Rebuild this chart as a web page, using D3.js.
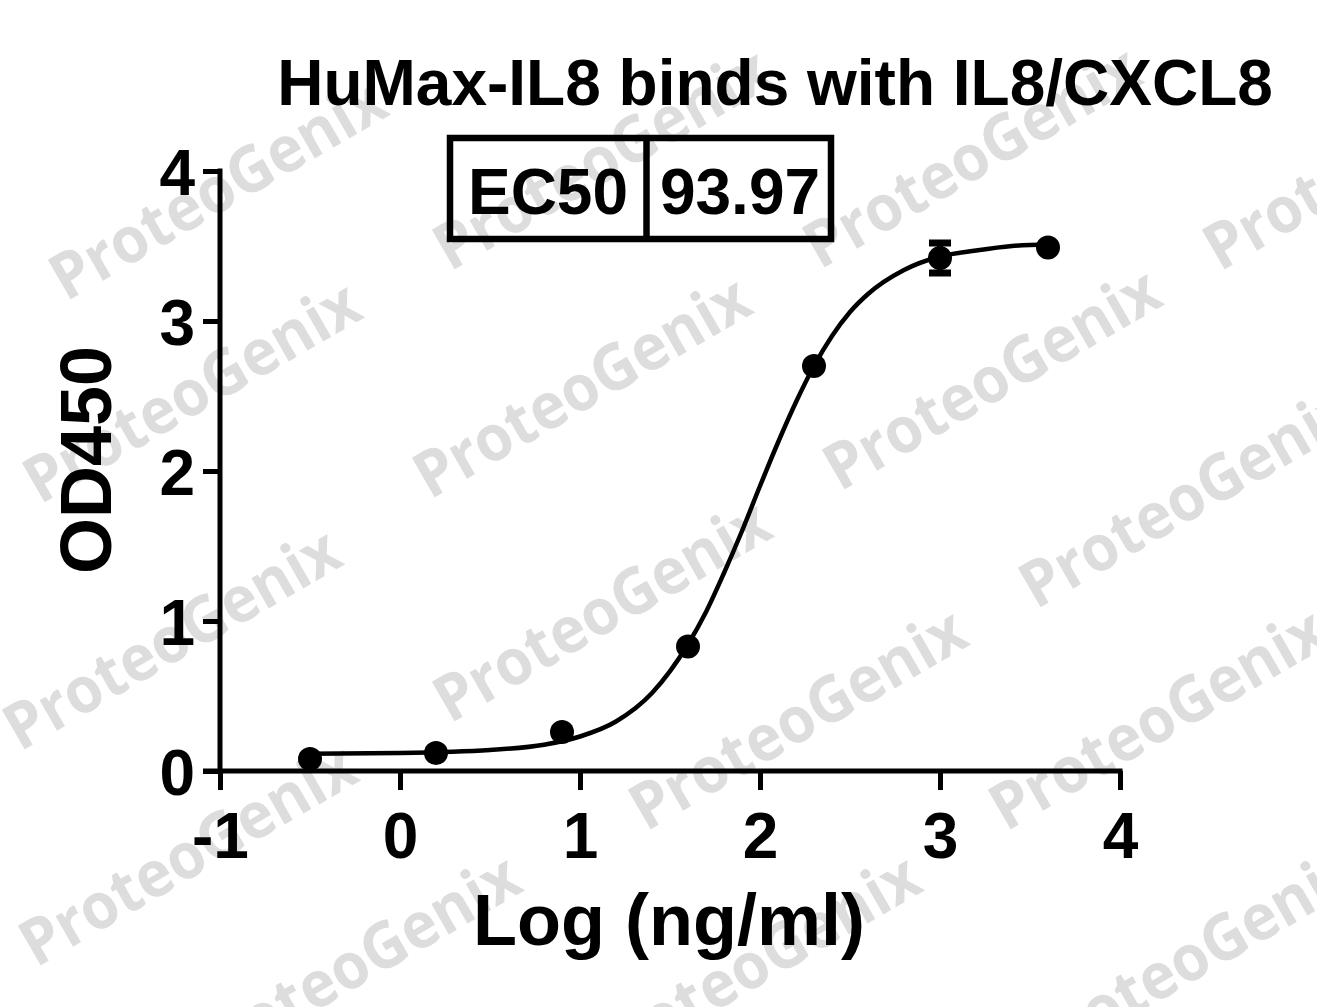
<!DOCTYPE html>
<html>
<head>
<meta charset="utf-8">
<script src="https://cdn.jsdelivr.net/npm/d3@7"></script>
<style>
  html, body { margin: 0; padding: 0; background: #fff; }
  svg { display: block; }
</style>
</head>
<body>
<svg id="chart" width="1317" height="1007"></svg>
<script>
// ---- data ----
const logConc = [-0.5, 0.2, 0.9, 1.6, 2.3, 3.0, 3.6];
const od450   = [0.08, 0.12, 0.26, 0.83, 2.70, 3.42, 3.49];
const odError = [0, 0, 0, 0, 0, 0.10, 0];

const fitLog = [-0.5, 0, 0.5, 0.8, 1.0, 1.2, 1.4, 1.6, 1.7, 1.8, 1.9, 2.0, 2.1, 2.2, 2.3, 2.4, 2.5, 2.6, 2.8, 3.0, 3.2, 3.4, 3.6];
const fitOD  = [0.115, 0.12, 0.14, 0.175, 0.23, 0.33, 0.52, 0.845, 1.06, 1.32, 1.60, 1.90, 2.19, 2.46, 2.70, 2.90, 3.06, 3.18, 3.34, 3.43, 3.47, 3.50, 3.51];

const xTicks = [-1, 0, 1, 2, 3, 4];
const yTicks = [0, 1, 2, 3, 4];
const xTickLabels = ["-1", "0", "1", "2", "3", "4"];
const yTickLabels = ["0", "1", "2", "3", "4"];

const titleText = "HuMax-IL8 binds with IL8/CXCL8";
const xLabel = "Log (ng/ml)";
const yLabel = "OD450";
const ec50Label = "EC50";
const ec50Value = "93.97";
const watermarkText = "ProteoGenix";

// ---- layout ----
const svg = d3.select("#chart");
const FONT = "'Liberation Sans', Arial, sans-serif";
const x = d3.scaleLinear().domain([-1, 4]).range([220, 1120]);
const y = d3.scaleLinear().domain([0, 4]).range([771, 171]);

// watermark (decoration)
const wmAnchors = [
  [66, 302], [450, 272], [820, 270], [1220, 272],
  [40, 505], [430, 500], [840, 492],
  [20, 752], [450, 724], [1036, 610],
  [36, 968], [646, 832], [1006, 832],
  [200, 1078], [600, 1078], [1040, 1070]
];
const wm = svg.append("g");
wmAnchors.forEach(([ax, ay]) => {
  wm.append("text")
    .attr("transform", `translate(${ax},${ay}) rotate(-30)`)
    .attr("font-family", "'Open Sans', 'DejaVu Sans', sans-serif")
    .attr("font-weight", 700)
    .attr("font-size", 64)
    .attr("textLength", 376)
    .attr("lengthAdjust", "spacingAndGlyphs")
    .attr("fill", "#dddddd")
    .text(watermarkText);
});

// axes
const axisG = svg.append("g");
const yAxis = d3.axisLeft(y).tickValues(yTicks).tickSize(17).tickPadding(8)
  .tickFormat((d, i) => yTickLabels[i]);
const xAxis = d3.axisBottom(x).tickValues(xTicks).tickSize(19).tickPadding(10)
  .tickFormat((d, i) => xTickLabels[i]);

const gy = axisG.append("g").attr("transform", `translate(${x(-1)},0)`).call(yAxis);
const gx = axisG.append("g").attr("transform", `translate(0,${y(0)})`).call(xAxis);
[gy, gx].forEach(g => {
  g.select(".domain").remove();
  g.selectAll(".tick line").attr("stroke", "#000").attr("stroke-width", 5);
  g.selectAll(".tick text")
    .attr("fill", "#000")
    .attr("font-family", FONT)
    .attr("font-weight", "bold")
    .attr("font-size", 64);
});
gx.selectAll(".tick text").attr("y", 87).attr("dy", 0);
gy.selectAll(".tick text").attr("dy", "0.36em");

// axis lines
axisG.append("line")
  .attr("x1", x(-1)).attr("x2", x(-1))
  .attr("y1", y(4) - 2.5).attr("y2", y(0))
  .attr("stroke", "#000").attr("stroke-width", 5);
axisG.append("line")
  .attr("x1", x(-1) - 17).attr("x2", x(4) + 2.5)
  .attr("y1", y(0)).attr("y2", y(0))
  .attr("stroke", "#000").attr("stroke-width", 5);

// fitted curve
const fitData = fitLog.map((v, i) => [v, fitOD[i]]);
svg.append("path")
  .datum(fitData)
  .attr("fill", "none")
  .attr("stroke", "#000")
  .attr("stroke-width", 4.5)
  .attr("d", d3.line().x(d => x(d[0])).y(d => y(d[1])).curve(d3.curveMonotoneX));

// points + error bars
const pts = logConc.map((v, i) => ({ x: v, y: od450[i], e: odError[i] }));
const eg = svg.append("g");
pts.filter(d => d.e > 0).forEach(d => {
  eg.append("line")
    .attr("x1", x(d.x)).attr("x2", x(d.x))
    .attr("y1", y(d.y + d.e)).attr("y2", y(d.y - d.e))
    .attr("stroke", "#000").attr("stroke-width", 6);
  [d.y + d.e, d.y - d.e].forEach(v => {
    eg.append("line")
      .attr("x1", x(d.x) - 11).attr("x2", x(d.x) + 11)
      .attr("y1", y(v)).attr("y2", y(v))
      .attr("stroke", "#000").attr("stroke-width", 7);
  });
});
svg.append("g").selectAll("circle")
  .data(pts).join("circle")
  .attr("cx", d => x(d.x))
  .attr("cy", d => y(d.y))
  .attr("r", 12)
  .attr("fill", "#000");

// title
svg.append("text")
  .attr("x", 775).attr("y", 105)
  .attr("text-anchor", "middle")
  .attr("font-family", FONT).attr("font-weight", "bold").attr("font-size", 64)
  .attr("fill", "#000")
  .text(titleText);

// EC50 box
const box = svg.append("g");
box.append("rect")
  .attr("x", 450).attr("y", 138).attr("width", 381).attr("height", 101)
  .attr("fill", "none").attr("stroke", "#000").attr("stroke-width", 6.5);
box.append("line")
  .attr("x1", 646.5).attr("x2", 646.5).attr("y1", 138).attr("y2", 239)
  .attr("stroke", "#000").attr("stroke-width", 6.5);
box.append("text")
  .attr("x", 548).attr("y", 214).attr("text-anchor", "middle")
  .attr("font-family", FONT).attr("font-weight", "bold").attr("font-size", 64)
  .attr("fill", "#000").text(ec50Label);
box.append("text")
  .attr("x", 740).attr("y", 214).attr("text-anchor", "middle")
  .attr("font-family", FONT).attr("font-weight", "bold").attr("font-size", 64)
  .attr("fill", "#000").text(ec50Value);

// axis labels
svg.append("text")
  .attr("x", 669).attr("y", 945)
  .attr("text-anchor", "middle")
  .attr("font-family", FONT).attr("font-weight", "bold").attr("font-size", 72)
  .attr("fill", "#000").text(xLabel);
svg.append("text")
  .attr("transform", `translate(111,460) rotate(-90)`)
  .attr("text-anchor", "middle")
  .attr("font-family", FONT).attr("font-weight", "bold").attr("font-size", 72)
  .attr("fill", "#000").text(yLabel);
</script>
</body>
</html>
